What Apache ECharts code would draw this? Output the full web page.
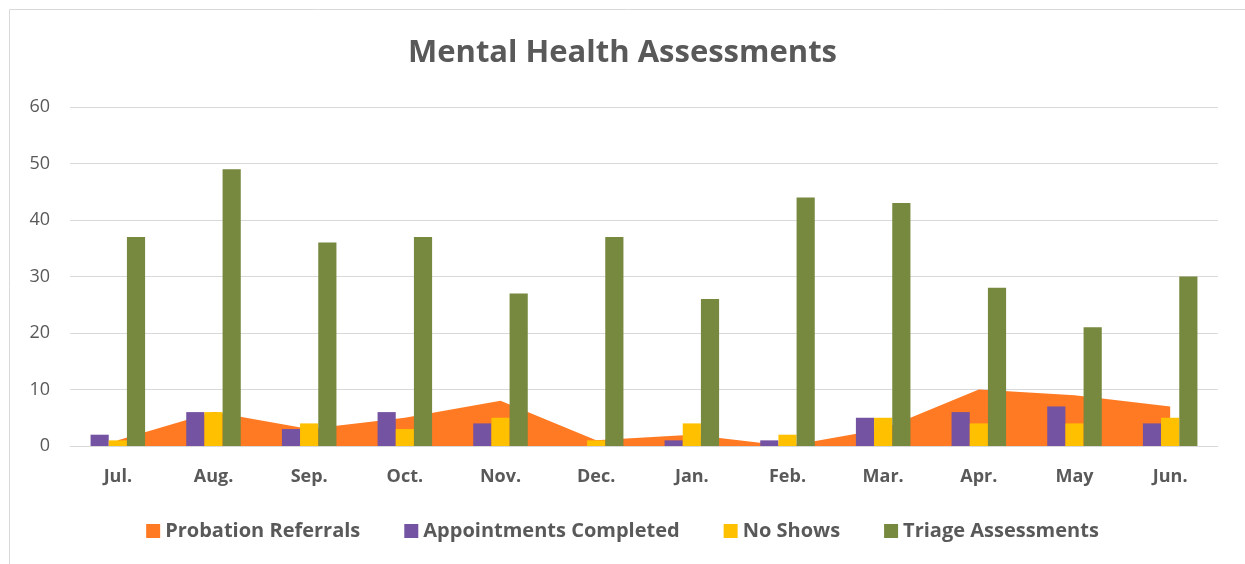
<!DOCTYPE html>
<html>
<head>
<meta charset="utf-8">
<script src="https://cdn.jsdelivr.net/npm/echarts@6/dist/echarts.min.js"></script>
<style>
  html, body { margin: 0; padding: 0; background: #fff; }
  #chart { width: 1245px; height: 564px; }
</style>
</head>
<body>
<div id="chart"></div>
<script>
// data
const months = ['Jul.', 'Aug.', 'Sep.', 'Oct.', 'Nov.', 'Dec.', 'Jan.', 'Feb.', 'Mar.', 'Apr.', 'May', 'Jun.']
const probationReferrals = [1, 6, 3, 5, 8, 1, 2, 0, 3, 10, 9, 7]
const appointmentsCompleted = [2, 6, 3, 6, 4, 0, 1, 1, 5, 6, 7, 4]
const noShows = [1, 6, 4, 3, 5, 1, 4, 2, 5, 4, 4, 5]
const triageAssessments = [37, 49, 36, 37, 27, 37, 26, 44, 43, 28, 21, 30]

const chartObj = echarts.init(document.getElementById('chart'))
const textColor = '#595959'
const font = '"Open Sans", Lato, sans-serif'

const option = {
  animation: false,
  textStyle: { fontFamily: font },
  graphic: [
    {
      type: 'rect',
      shape: { x: 9.5, y: 9.5, width: 1260, height: 620 },
      style: { fill: 'none', stroke: '#d9d9d9', lineWidth: 1 },
      silent: true
    }
  ],
  title: {
    text: 'Mental Health Assessments',
    left: 'center',
    top: 33,
    textStyle: { fontFamily: font, fontSize: 31, fontWeight: 'bold', color: textColor }
  },
  legend: {
    bottom: 18,
    left: 'center',
    itemWidth: 14,
    itemHeight: 14,
    itemGap: 44,
    icon: 'rect',
    textStyle: { fontFamily: font, fontSize: 20, fontWeight: 'bold', color: textColor },
    data: ['Probation Referrals', 'Appointments Completed', 'No Shows', 'Triage Assessments']
  },
  grid: { left: 70, right: 27, top: 107, bottom: 118 },
  xAxis: {
    type: 'category',
    data: months,
    boundaryGap: true,
    axisLine: { lineStyle: { color: '#d9d9d9', width: 1 } },
    axisTick: { show: false },
    axisLabel: { fontFamily: font, fontSize: 18, fontWeight: 'bold', color: textColor, margin: 22 }
  },
  yAxis: {
    type: 'value',
    min: 0,
    max: 60,
    interval: 10,
    axisLine: { show: false },
    axisTick: { show: false },
    splitLine: { lineStyle: { color: '#d9d9d9', width: 1 } },
    axisLabel: { fontFamily: font, fontSize: 18, color: textColor, margin: 20 }
  },
  series: [
    {
      name: 'Probation Referrals',
      type: 'line',
      data: probationReferrals,
      symbol: 'none',
      lineStyle: { width: 0 },
      itemStyle: { color: '#FF7A22' },
      areaStyle: { color: '#FF7A22', opacity: 1 },
      z: 1
    },
    {
      name: 'Appointments Completed',
      type: 'bar',
      data: appointmentsCompleted,
      itemStyle: { color: '#7453A2' },
      barGap: '0%',
      barCategoryGap: '43%',
      z: 2
    },
    {
      name: 'No Shows',
      type: 'bar',
      data: noShows,
      itemStyle: { color: '#FFC000' },
      z: 2
    },
    {
      name: 'Triage Assessments',
      type: 'bar',
      data: triageAssessments,
      itemStyle: { color: '#77883F' },
      z: 2
    }
  ]
}
chartObj.setOption(option)
</script>
</body>
</html>
